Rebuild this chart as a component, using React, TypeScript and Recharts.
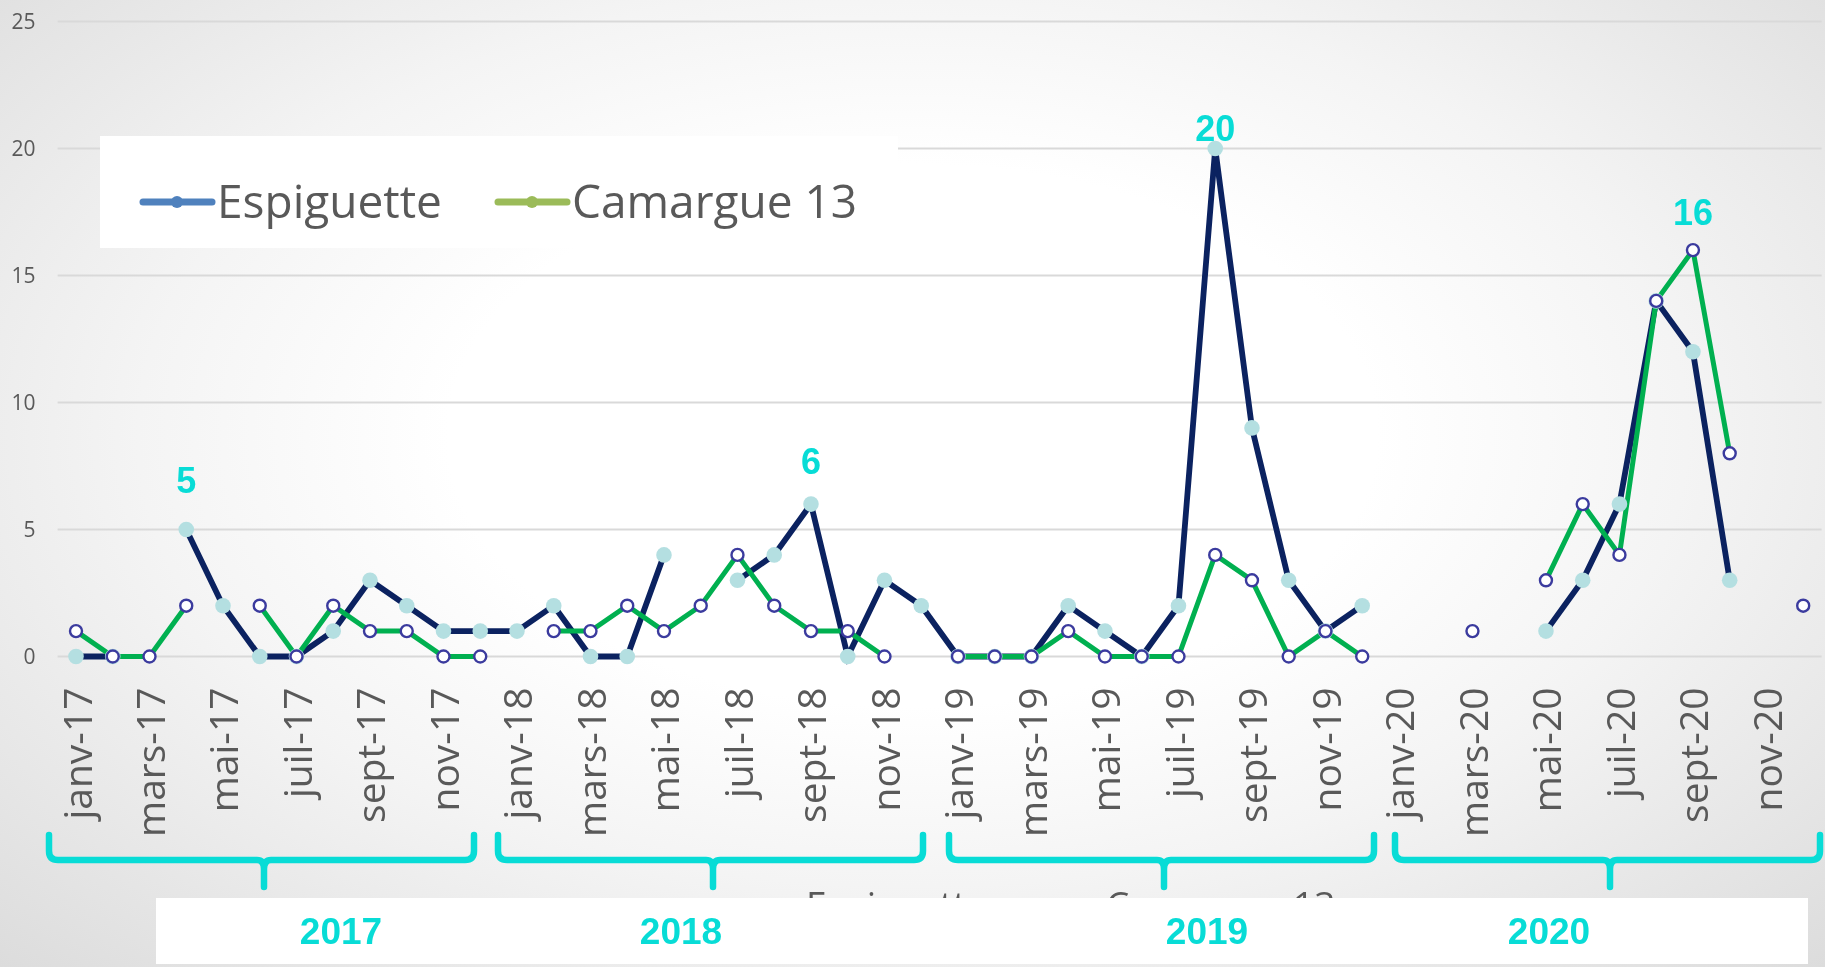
import React from 'react';
import { LineChart, Line, XAxis, YAxis, CartesianGrid, LabelList } from 'recharts';

const monthNames = ['janv', 'févr', 'mars', 'avr', 'mai', 'juin', 'juil', 'août', 'sept', 'oct', 'nov', 'déc'];
const yearSuffixes = ['17', '18', '19', '20'];
const yearLabels = ['2017', '2018', '2019', '2020'];
const yTicks = [0, 5, 10, 15, 20, 25];

// monthly counts, janv-17 .. déc-20 (null = no value)
const espiguette = [
  0, 0, null, 5, 2, 0, 0, 1, 3, 2, 1, 1,
  1, 2, 0, 0, 4, null, 3, 4, 6, 0, 3, 2,
  0, 0, 0, 2, 1, 0, 2, 20, 9, 3, 1, 2,
  null, null, null, null, 1, 3, 6, 14, 12, 3, null, null,
];
const camargue = [
  1, 0, 0, 2, null, 2, 0, 2, 1, 1, 0, 0,
  null, 1, 1, 2, 1, 2, 4, 2, 1, 1, 0, null,
  0, 0, 0, 1, 0, 0, 0, 4, 3, 0, 1, 0,
  null, null, 1, null, 3, 6, 4, 14, 16, 8, null, 2,
];

// peaks called out in cyan
const espiguettePeaks = [3, 20, 31];
const camarguePeaks = [44];

const months = yearSuffixes.flatMap((y) => monthNames.map((m) => `${m}-${y}`));
const data = months.map((month, i) => ({
  month,
  espiguette: espiguette[i],
  camargue: camargue[i],
}));

const FONT = '"Open Sans", "Noto Sans", sans-serif';
const CYAN = '#08dcd6';
const NAVY = '#0b2260';
const GREEN = '#00b050';

// how far above the point each peak label sits
const peakLift: Record<number, number> = { 3: 37, 20: 30, 31: 8, 44: 25 };

const peakLabel = (peaks: number[]) => (props: any) => {
  const { x, y, value, index } = props;
  if (!peaks.includes(index) || value == null) return null;
  return (
    <text
      x={x}
      y={y - (peakLift[index] ?? 20)}
      textAnchor="middle"
      fill={CYAN}
      fontSize={36}
      fontWeight="bold"
      fontFamily='"Liberation Sans", Arial, sans-serif'
    >
      {value}
    </text>
  );
};

const MonthTick = ({ x, y, payload }: any) => (
  <text
    transform={`translate(${x},${y + 31}) rotate(-90)`}
    textAnchor="end"
    dominantBaseline="central"
    fill="#595959"
    fontSize={39}
    fontFamily={FONT}
  >
    {payload.value}
  </text>
);

const legendItems = [
  { name: 'Espiguette', color: '#4f81bd', x: 43 },
  { name: 'Camargue 13', color: '#9bbb59', x: 398 },
];

// decorative year braces under the axis
const braceLeft = [49, 498, 949, 1395];
const braceWidth = 425;
const yearLabelX = [341, 681, 1207, 1549];

const bracePath = (l: number) => {
  const r = l + braceWidth;
  const c = l + 215;
  return `M${l},835 V851 Q${l},860 ${l + 9},860 H${c - 7} Q${c},860 ${c},869 V887 ` +
    `M${r},835 V851 Q${r},860 ${r - 9},860 H${c + 7} Q${c},860 ${c},869`;
};

export default function App() {
  return (
    <div
      style={{
        position: 'fixed',
        left: 0,
        top: 0,
        width: 1825,
        height: 967,
        overflow: 'hidden',
        fontFamily: FONT,
        background:
          'radial-gradient(ellipse farthest-corner at 50% 45%, #ffffff 36%, #f4f4f4 60%, #dcdcdc 100%)',
      }}
    >
      <LineChart
        width={1825}
        height={967}
        data={data}
        margin={{ top: 21.5, right: 3.4, left: 0, bottom: 150.5 }}
      >
        <CartesianGrid vertical={false} stroke="#d9d9d9" strokeWidth={2} />
        <XAxis
          dataKey="month"
          interval={1}
          height={160}
          axisLine={false}
          tickLine={false}
          tickSize={0}
          tickMargin={0}
          padding={{ left: 18.4, right: 18.4 }}
          tick={(p: any) => <MonthTick {...p} />}
        />
        <YAxis
          width={57.6}
          domain={[0, 25]}
          ticks={yTicks}
          axisLine={false}
          tickLine={false}
          tickSize={0}
          tickMargin={22}
          tick={{ fill: '#595959', fontSize: 21, fontFamily: FONT }}
        />
        <Line
          dataKey="espiguette"
          stroke={NAVY}
          strokeWidth={5.8}
          dot={{ r: 7.8, fill: '#b4dfe1', stroke: 'none', strokeWidth: 0 }}
          activeDot={false}
          isAnimationActive={false}
        >
          <LabelList dataKey="espiguette" content={peakLabel(espiguettePeaks)} />
        </Line>
        <Line
          dataKey="camargue"
          stroke={GREEN}
          strokeWidth={5}
          dot={{ r: 6, fill: '#ffffff', stroke: '#3b3b9e', strokeWidth: 2.4 }}
          activeDot={false}
          isAnimationActive={false}
        >
          <LabelList dataKey="camargue" content={peakLabel(camarguePeaks)} />
        </Line>
      </LineChart>

      {/* legend box */}
      <div
        style={{
          position: 'absolute',
          left: 100,
          top: 136,
          width: 798,
          height: 112,
          background: '#ffffff',
        }}
      >
        <svg width={798} height={112}>
          {legendItems.map((it) => (
            <g key={it.name}>
              <line x1={it.x} x2={it.x + 69} y1={66} y2={66} stroke={it.color} strokeWidth={7} strokeLinecap="round" />
              <circle cx={it.x + 34} cy={66} r={6} fill={it.color} />
              <text x={it.x + 74} y={82} fill="#595959" fontSize={46} fontFamily={FONT}>
                {it.name}
              </text>
            </g>
          ))}
        </svg>
      </div>

      {/* braces and year labels; the old legend peeks out above the white strip */}
      <svg
        width={1825}
        height={967}
        style={{ position: 'absolute', left: 0, top: 0, pointerEvents: 'none' }}
      >
        <text x={806} y={918} fill="#595959" fontSize={37} fontFamily={FONT}>Espiguette</text>
        <text x={1106} y={918} fill="#595959" fontSize={37} fontFamily={FONT}>Camargue 13</text>
        <rect x={156} y={898} width={1652} height={66} fill="#ffffff" />
        {braceLeft.map((l) => (
          <path
            key={l}
            d={bracePath(l)}
            fill="none"
            stroke={CYAN}
            strokeWidth={6.5}
            strokeLinecap="round"
            strokeLinejoin="round"
          />
        ))}
        {yearLabels.map((y, i) => (
          <text
            key={y}
            x={yearLabelX[i]}
            y={944}
            textAnchor="middle"
            fill={CYAN}
            fontSize={37}
            fontWeight="bold"
            fontFamily='"Liberation Sans", Arial, sans-serif'
          >
            {y}
          </text>
        ))}
      </svg>
    </div>
  );
}
